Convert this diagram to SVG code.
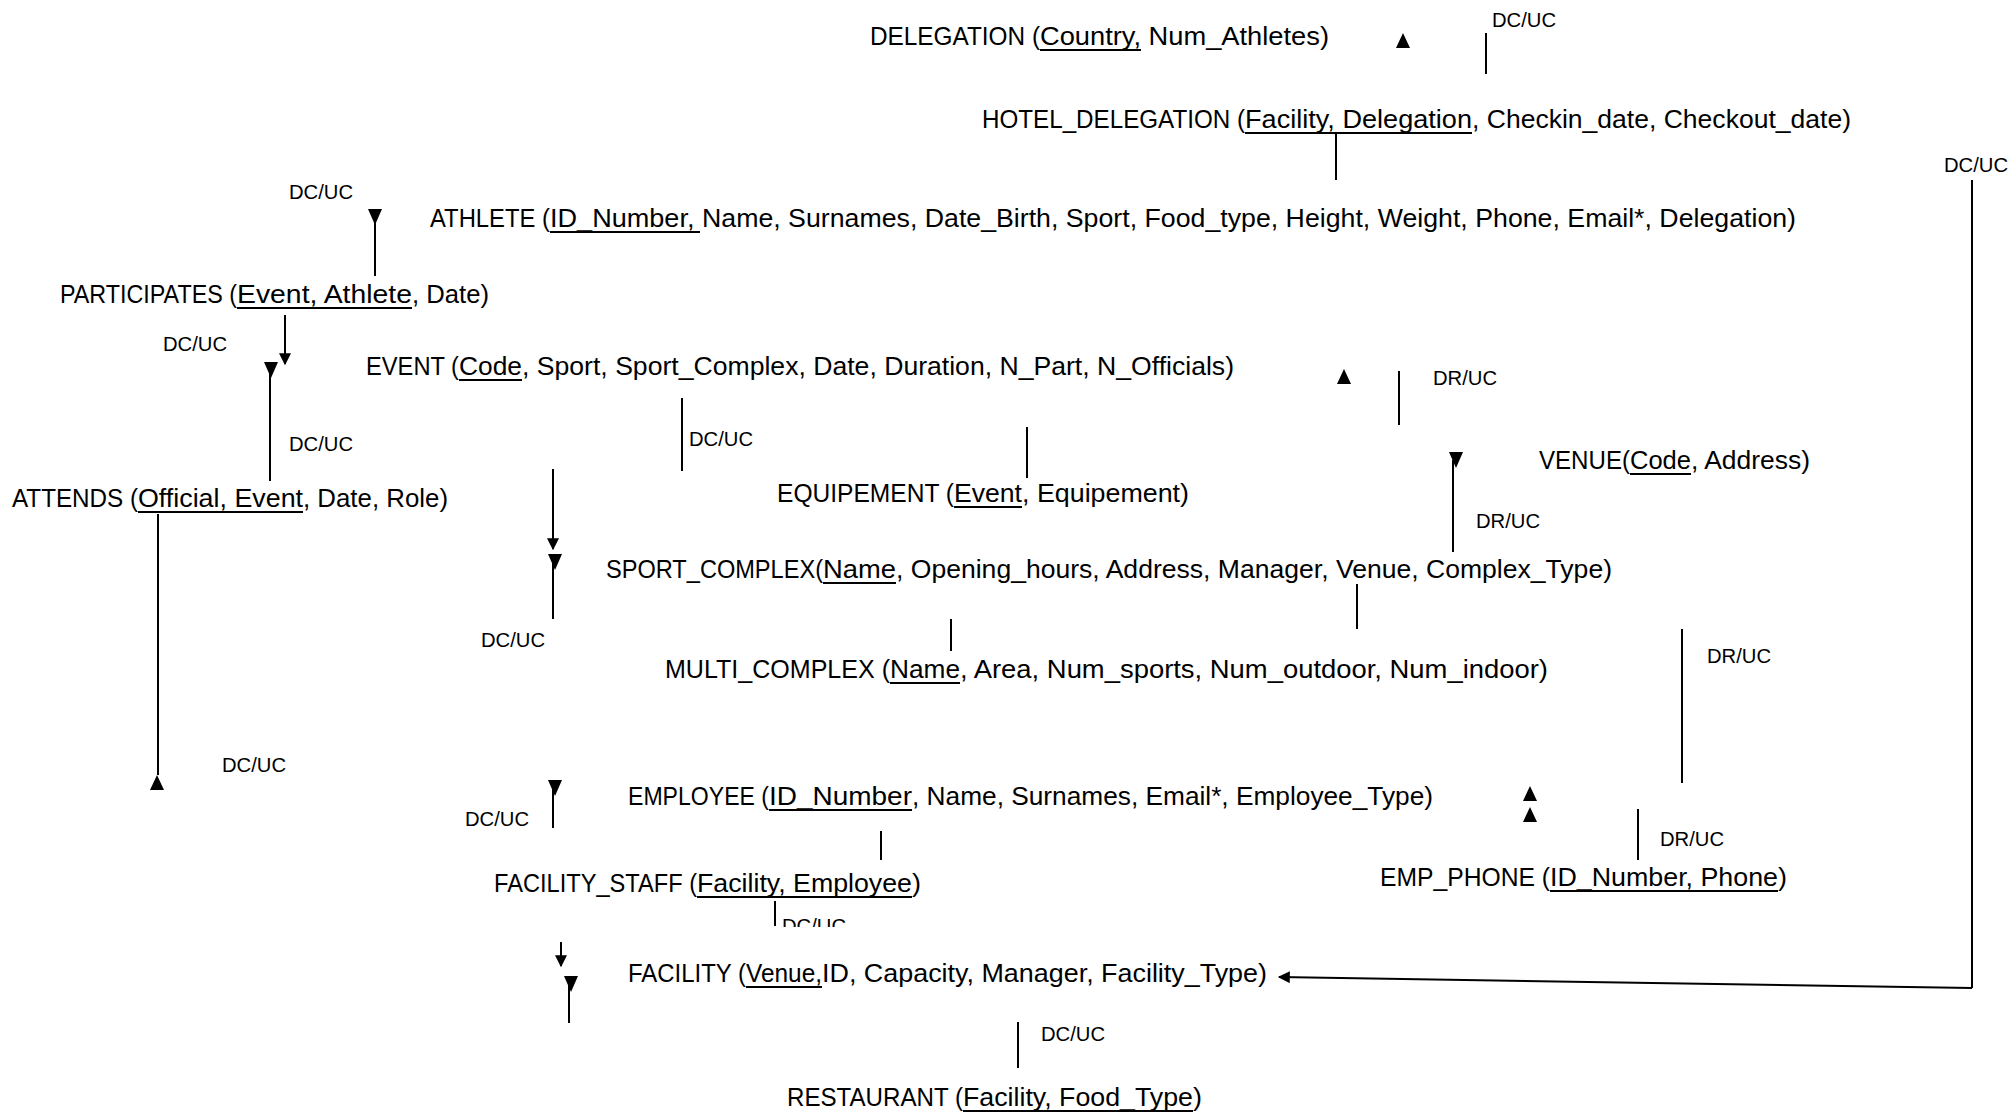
<svg xmlns="http://www.w3.org/2000/svg" width="2013" height="1114" viewBox="0 0 2013 1114">
<style>
.t{font-family:"Liberation Sans",Arial,sans-serif;font-size:26.5px;fill:#000}
.l{font-family:"Liberation Sans",Arial,sans-serif;font-size:21px;fill:#000}
.ul{stroke:#000;stroke-width:2}
.c{stroke:#000;stroke-width:2;fill:none}
.tri{fill:#000}
</style>
<defs>
<marker id="ah" viewBox="0 0 10 10" refX="9" refY="5" markerWidth="17" markerHeight="12" markerUnits="userSpaceOnUse" orient="auto"><path d="M0,0 L10,5 L0,10 z" fill="#000"/></marker>
<path id="up" d="M-7,7 L7,7 L0,-8 z"/>
<path id="dn" d="M-7,-8 L7,-8 L0,8 z"/>
<clipPath id="clipLbl"><rect x="770" y="900" width="120" height="27"/></clipPath>
</defs>
<rect width="2013" height="1114" fill="#fff"/>

<g id="delegation"><text class="t" y="45"><tspan x="870" textLength="170" lengthAdjust="spacingAndGlyphs">DELEGATION (</tspan><tspan x="1040" textLength="101" lengthAdjust="spacingAndGlyphs">Country,</tspan><tspan x="1141" textLength="188" lengthAdjust="spacingAndGlyphs"> Num_Athletes)</tspan></text><line class="ul" x1="1040" y1="50" x2="1141" y2="50"/></g>
<g id="hotel_delegation"><text class="t" y="128"><tspan x="982" textLength="263" lengthAdjust="spacingAndGlyphs">HOTEL_DELEGATION (</tspan><tspan x="1245" textLength="227" lengthAdjust="spacingAndGlyphs">Facility, Delegation</tspan><tspan x="1472" textLength="379" lengthAdjust="spacingAndGlyphs">, Checkin_date, Checkout_date)</tspan></text><line class="ul" x1="1245" y1="133" x2="1472" y2="133"/></g>
<g id="athlete"><text class="t" y="227"><tspan x="430" textLength="120" lengthAdjust="spacingAndGlyphs">ATHLETE (</tspan><tspan x="550" textLength="152" lengthAdjust="spacingAndGlyphs">ID_Number, </tspan><tspan x="702" textLength="1094" lengthAdjust="spacingAndGlyphs">Name, Surnames, Date_Birth, Sport, Food_type, Height, Weight, Phone, Email*, Delegation)</tspan></text><line class="ul" x1="550" y1="232" x2="700" y2="232"/></g>
<g id="participates"><text class="t" y="303"><tspan x="60" textLength="177" lengthAdjust="spacingAndGlyphs">PARTICIPATES (</tspan><tspan x="237" textLength="175" lengthAdjust="spacingAndGlyphs">Event, Athlete</tspan><tspan x="412" textLength="77" lengthAdjust="spacingAndGlyphs">, Date)</tspan></text><line class="ul" x1="237" y1="308" x2="412" y2="308"/></g>
<g id="event"><text class="t" y="375"><tspan x="366" textLength="93" lengthAdjust="spacingAndGlyphs">EVENT (</tspan><tspan x="459" textLength="63" lengthAdjust="spacingAndGlyphs">Code</tspan><tspan x="522" textLength="712" lengthAdjust="spacingAndGlyphs">, Sport, Sport_Complex, Date, Duration, N_Part, N_Officials)</tspan></text><line class="ul" x1="459" y1="380" x2="522" y2="380"/></g>
<g id="equipement"><text class="t" y="502"><tspan x="777" textLength="177" lengthAdjust="spacingAndGlyphs">EQUIPEMENT (</tspan><tspan x="954" textLength="68" lengthAdjust="spacingAndGlyphs">Event</tspan><tspan x="1022" textLength="167" lengthAdjust="spacingAndGlyphs">, Equipement)</tspan></text><line class="ul" x1="954" y1="507" x2="1022" y2="507"/></g>
<g id="venue"><text class="t" y="469"><tspan x="1539" textLength="91" lengthAdjust="spacingAndGlyphs">VENUE(</tspan><tspan x="1630" textLength="61" lengthAdjust="spacingAndGlyphs">Code</tspan><tspan x="1691" textLength="119" lengthAdjust="spacingAndGlyphs">, Address)</tspan></text><line class="ul" x1="1630" y1="474" x2="1691" y2="474"/></g>
<g id="attends"><text class="t" y="507"><tspan x="12" textLength="126" lengthAdjust="spacingAndGlyphs">ATTENDS (</tspan><tspan x="138" textLength="165" lengthAdjust="spacingAndGlyphs">Official, Event</tspan><tspan x="303" textLength="145" lengthAdjust="spacingAndGlyphs">, Date, Role)</tspan></text><line class="ul" x1="138" y1="512" x2="303" y2="512"/></g>
<g id="sport_complex"><text class="t" y="578"><tspan x="606" textLength="217" lengthAdjust="spacingAndGlyphs">SPORT_COMPLEX(</tspan><tspan x="823" textLength="73" lengthAdjust="spacingAndGlyphs">Name</tspan><tspan x="896" textLength="716" lengthAdjust="spacingAndGlyphs">, Opening_hours, Address, Manager, Venue, Complex_Type)</tspan></text><line class="ul" x1="823" y1="583" x2="896" y2="583"/></g>
<g id="multi_complex"><text class="t" y="678"><tspan x="665" textLength="225" lengthAdjust="spacingAndGlyphs">MULTI_COMPLEX (</tspan><tspan x="890" textLength="70" lengthAdjust="spacingAndGlyphs">Name</tspan><tspan x="960" textLength="588" lengthAdjust="spacingAndGlyphs">, Area, Num_sports, Num_outdoor, Num_indoor)</tspan></text><line class="ul" x1="890" y1="683" x2="960" y2="683"/></g>
<g id="employee"><text class="t" y="805"><tspan x="628" textLength="141" lengthAdjust="spacingAndGlyphs">EMPLOYEE (</tspan><tspan x="769" textLength="143" lengthAdjust="spacingAndGlyphs">ID_Number</tspan><tspan x="912" textLength="521" lengthAdjust="spacingAndGlyphs">, Name, Surnames, Email*, Employee_Type)</tspan></text><line class="ul" x1="769" y1="810" x2="912" y2="810"/></g>
<g id="facility_staff"><text class="t" y="892"><tspan x="494" textLength="203" lengthAdjust="spacingAndGlyphs">FACILITY_STAFF (</tspan><tspan x="697" textLength="215" lengthAdjust="spacingAndGlyphs">Facility, Employee</tspan><tspan x="912" textLength="9" lengthAdjust="spacingAndGlyphs">)</tspan></text><line class="ul" x1="697" y1="897" x2="912" y2="897"/></g>
<g id="emp_phone"><text class="t" y="886"><tspan x="1380" textLength="170" lengthAdjust="spacingAndGlyphs">EMP_PHONE (</tspan><tspan x="1550" textLength="228" lengthAdjust="spacingAndGlyphs">ID_Number, Phone</tspan><tspan x="1778" textLength="9" lengthAdjust="spacingAndGlyphs">)</tspan></text><line class="ul" x1="1550" y1="891" x2="1778" y2="891"/></g>
<g id="facility"><text class="t" y="982"><tspan x="628" textLength="118" lengthAdjust="spacingAndGlyphs">FACILITY (</tspan><tspan x="746" textLength="76" lengthAdjust="spacingAndGlyphs">Venue,</tspan><tspan x="822" textLength="445" lengthAdjust="spacingAndGlyphs">ID, Capacity, Manager, Facility_Type)</tspan></text><line class="ul" x1="746" y1="987" x2="822" y2="987"/></g>
<g id="restaurant"><text class="t" y="1106"><tspan x="787" textLength="176" lengthAdjust="spacingAndGlyphs">RESTAURANT (</tspan><tspan x="963" textLength="230" lengthAdjust="spacingAndGlyphs">Facility, Food_Type</tspan><tspan x="1193" textLength="9" lengthAdjust="spacingAndGlyphs">)</tspan></text><line class="ul" x1="963" y1="1111" x2="1193" y2="1111"/></g>

<g id="connectors">
<line class="c" x1="1486" y1="33" x2="1486" y2="74"/>
<use href="#up" class="tri" x="1403" y="41"/>
<text class="l" x="1492" y="27" textLength="64" lengthAdjust="spacingAndGlyphs">DC/UC</text>

<line class="c" x1="1336" y1="134" x2="1336" y2="180"/>

<line class="c" x1="1972" y1="180" x2="1972" y2="988"/>
<line class="c" x1="1972" y1="988" x2="1279" y2="977" marker-end="url(#ah)"/>
<text class="l" x="1944" y="172" textLength="64" lengthAdjust="spacingAndGlyphs">DC/UC</text>

<use href="#dn" class="tri" x="375" y="217"/>
<line class="c" x1="375" y1="217" x2="375" y2="276"/>
<text class="l" x="289" y="199" textLength="64" lengthAdjust="spacingAndGlyphs">DC/UC</text>

<line class="c" x1="285" y1="315" x2="285" y2="364" marker-end="url(#ah)"/>
<text class="l" x="163" y="351" textLength="64" lengthAdjust="spacingAndGlyphs">DC/UC</text>
<use href="#dn" class="tri" x="271" y="370"/>
<line class="c" x1="270" y1="370" x2="270" y2="481"/>
<text class="l" x="289" y="451" textLength="64" lengthAdjust="spacingAndGlyphs">DC/UC</text>

<use href="#up" class="tri" x="1344" y="377"/>
<line class="c" x1="1399" y1="371" x2="1399" y2="425"/>
<text class="l" x="1433" y="385" textLength="64" lengthAdjust="spacingAndGlyphs">DR/UC</text>

<line class="c" x1="682" y1="398" x2="682" y2="471"/>
<text class="l" x="689" y="446" textLength="64" lengthAdjust="spacingAndGlyphs">DC/UC</text>

<line class="c" x1="1027" y1="427" x2="1027" y2="478"/>

<use href="#dn" class="tri" x="1456" y="460"/>
<line class="c" x1="1453" y1="460" x2="1453" y2="552"/>
<text class="l" x="1476" y="528" textLength="64" lengthAdjust="spacingAndGlyphs">DR/UC</text>

<line class="c" x1="158" y1="514" x2="158" y2="775"/>
<use href="#up" class="tri" x="157" y="783"/>
<text class="l" x="222" y="772" textLength="64" lengthAdjust="spacingAndGlyphs">DC/UC</text>

<line class="c" x1="553" y1="469" x2="553" y2="549" marker-end="url(#ah)"/>
<use href="#dn" class="tri" x="555" y="562"/>
<line class="c" x1="553" y1="562" x2="553" y2="619"/>
<text class="l" x="481" y="647" textLength="64" lengthAdjust="spacingAndGlyphs">DC/UC</text>

<line class="c" x1="951" y1="619" x2="951" y2="651"/>
<line class="c" x1="1357" y1="584" x2="1357" y2="629"/>

<line class="c" x1="1682" y1="629" x2="1682" y2="783"/>
<text class="l" x="1707" y="663" textLength="64" lengthAdjust="spacingAndGlyphs">DR/UC</text>

<use href="#dn" class="tri" x="555" y="788"/>
<line class="c" x1="553" y1="788" x2="553" y2="828"/>
<text class="l" x="465" y="826" textLength="64" lengthAdjust="spacingAndGlyphs">DC/UC</text>

<use href="#up" class="tri" x="1530" y="794"/>
<use href="#up" class="tri" x="1530" y="815"/>

<line class="c" x1="1638" y1="809" x2="1638" y2="860"/>
<text class="l" x="1660" y="846" textLength="64" lengthAdjust="spacingAndGlyphs">DR/UC</text>

<line class="c" x1="881" y1="831" x2="881" y2="860"/>

<line class="c" x1="775" y1="901" x2="775" y2="926"/>
<text class="l" x="782" y="933" textLength="64" lengthAdjust="spacingAndGlyphs" clip-path="url(#clipLbl)">DC/UC</text>

<line class="c" x1="561" y1="942" x2="561" y2="966" marker-end="url(#ah)"/>
<use href="#dn" class="tri" x="571" y="984"/>
<line class="c" x1="569" y1="984" x2="569" y2="1023"/>

<line class="c" x1="1018" y1="1022" x2="1018" y2="1068"/>
<text class="l" x="1041" y="1041" textLength="64" lengthAdjust="spacingAndGlyphs">DC/UC</text>
</g>
</svg>
